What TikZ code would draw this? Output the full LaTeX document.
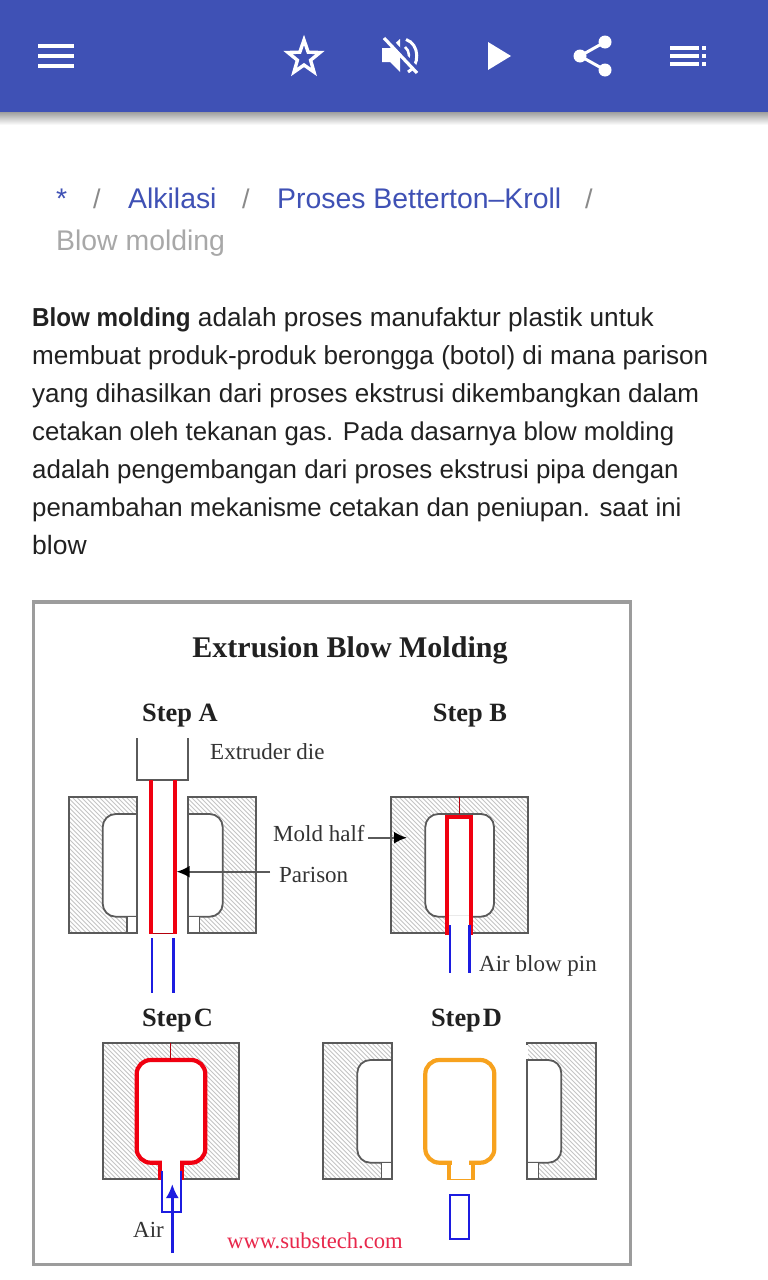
\documentclass[tikz,border=0pt]{standalone}
\usepackage{fontspec}
\setmainfont{Liberation Sans}
\newfontfamily\serifdiag{Liberation Serif}
\newfontfamily\boldcond[FakeStretch=0.93]{Liberation Sans Bold}
\usetikzlibrary{arrows.meta}
\definecolor{barblue}{HTML}{3F51B5}
\definecolor{inkdark}{HTML}{212121}
\definecolor{crumbgray}{HTML}{A8A8A8}
\definecolor{slashgray}{HTML}{8A8A8A}
\definecolor{framegray}{HTML}{9C9C9C}
\definecolor{moldline}{HTML}{5A5A5A}
\definecolor{hatchgray}{HTML}{C4C4C4}
\definecolor{diagtext}{HTML}{333333}
\definecolor{plasticred}{HTML}{F00010}
\definecolor{pinblue}{HTML}{1C1CE0}
\definecolor{cooledorange}{HTML}{F7A21E}
\definecolor{siteRed}{HTML}{E8274B}
\newcommand{\bsize}[1]{\fontsize{#1}{30}\selectfont}
\tikzset{
  x=1pt,y=-1pt,
  icon/.style={fill=white,draw=none},
  bodyline/.style={anchor=base west,inner sep=0pt,text=inkdark},
  crumb/.style={anchor=base west,inner sep=0pt,text=barblue,font=\fontsize{28.4}{30}\selectfont},
  crumbsep/.style={anchor=base west,inner sep=0pt,text=slashgray,font=\fontsize{27}{30}\selectfont},
  title/.style={anchor=base,inner sep=0pt,text=inkdark,font=\serifdiag\bfseries\fontsize{30}{32}\selectfont},
  steplabel/.style={anchor=base,inner sep=0pt,text=inkdark,font=\serifdiag\bfseries\fontsize{26.4}{28}\selectfont},
  partlabel/.style={anchor=base west,inner sep=0pt,text=diagtext,font=\serifdiag\fontsize{23}{26}\selectfont},
  moldedge/.style={draw=moldline,line width=1.8pt},
  neckedge/.style={draw=moldline,line width=1.6pt},
  cavity/.style={fill=white,draw=moldline,line width=1.8pt,rounded corners=13pt},
  parison/.style={draw=plasticred,line width=4.2pt},
  thinred/.style={draw=plasticred!75!black,line width=1.5pt},
  pin/.style={draw=pinblue,line width=2.6pt},
  pinthin/.style={draw=pinblue,line width=2pt},
  callout/.style={draw=moldline,line width=2pt,-{Latex[length=13pt,width=12pt,black]}},
  moldedplastic/.style={line width=4.2pt,line join=miter},
}
\newcommand{\hatchbox}[4]{%
  \begin{scope}
    \clip (#1,#2) rectangle (#3,#4);
    \foreach \i in {0,...,64} {
      \pgfmathsetmacro{\c}{#1-(#4-#2)+\i*4.5}
      \draw[hatchgray,line width=.9pt] (\c,#2) -- (\c+#4-#2,#4);
    }
  \end{scope}
  \draw[moldedge] (#1,#2) rectangle (#3,#4);
}
\begin{document}
\begin{tikzpicture}
\useasboundingbox (0,0) rectangle (768,1280);
\fill[white] (0,0) rectangle (768,1280);
% app bar
\shade[top color=black!38,bottom color=white] (0,112) rectangle (768,125);
\fill[barblue] (0,0) rectangle (768,112);
\foreach \y in {44,54,64} \fill[icon] (38,\y) rectangle (74,\y+4);
% star
\draw[white,line width=3.4pt,line join=miter,miter limit=10]
  (304,40) -- (308.2,52.2) -- (320,52.5) -- (310.6,60.2) -- (314,72) -- (304,65) -- (294,72) -- (297.4,60.2) -- (288,52.5) -- (299.8,52.2) -- cycle;
% muted speaker
\fill[icon] (382,48) -- (390,48) -- (400,39) -- (400,72) -- (390,62) -- (382,62) -- cycle;
\draw[white,line width=3pt] (406,39.5) .. controls (420,44) and (420,66) .. (408,72);
\draw[white,line width=2.6pt] (405,47) .. controls (410,51) and (410,58) .. (406,63);
\draw[barblue,line width=3.6pt] (387,36) -- (420,72);
\draw[white,line width=3.2pt] (384,38) -- (417,73);
% play
\fill[icon] (488,42) -- (511,56) -- (488,70) -- cycle;
% share
\coordinate (shareA) at (605,42);
\coordinate (shareB) at (580,56);
\coordinate (shareC) at (605,70);
\draw[white,line width=3pt] (shareA) -- (shareB) -- (shareC);
\foreach \p in {shareA,shareB,shareC} \fill[icon] (\p) circle (6.5);
% playlist
\foreach \y in {46,54,62} {
  \fill[icon] (670,\y) rectangle (699,\y+4);
  \fill[icon] (702,\y) rectangle (706,\y+4);
}
% breadcrumbs
\node[crumb] (c0) at (56,208) {*};
\node[crumbsep] (s1) at (93,208) {/};
\node[crumb] (c1) at (128,208) {Alkilasi};
\node[crumbsep] (s2) at (242,208) {/};
\node[crumb] (c2) at (277,208) {Proses Betterton–Kroll};
\node[crumbsep] (s3) at (585,208) {/};
\node[crumb,text=crumbgray] (c3) at (56,250) {Blow molding};
% body
\node[bodyline] (l1) at (32,326) {{\boldcond\bsize{26}Blow molding}\bsize{26.2} adalah proses manufaktur plastik untuk};
\node[bodyline] (l2) at (32,364) {\bsize{26.1}membuat produk-produk berongga (botol) di mana parison};
\node[bodyline] (l3) at (32,402) {\bsize{26.03}yang dihasilkan dari proses ekstrusi dikembangkan dalam};
\node[bodyline] (l4) at (32,440) {\bsize{25.8}cetakan oleh tekanan gas. Pada dasarnya blow molding};
\node[bodyline] (l5) at (32,478) {\bsize{25.9}adalah pengembangan dari proses ekstrusi pipa dengan};
\node[bodyline] (l6) at (32,516) {\bsize{25.8}penambahan mekanisme cetakan dan peniupan. saat ini};
\node[bodyline] (l7) at (32,554) {\bsize{26.5}blow};
% frame
\draw[framegray,line width=3.5pt] (33.5,602) rectangle (630.5,1264.5);
\node[title] (ttl) at (350,657) {Extrusion Blow Molding};
\node[steplabel] (sa) at (180,721) {Step A};
\node[steplabel] (sb) at (470,721) {Step B};
\node[steplabel] (sc) at (177.5,1026) {Step\hspace{2pt}C};
\node[steplabel] (sd) at (466.5,1026) {Step\hspace{2pt}D};
% Step A
\draw[moldedge] (136.7,738) -- (136.7,780) -- (188,780) -- (188,738);
\hatchbox{68.7}{796.7}{137.3}{933.3}
\hatchbox{187.7}{796.7}{255.7}{933.3}
\draw[cavity] (137.3,814) -- (102.7,814) -- (102.7,916.7) -- (137.3,916.7);
\fill[white] (126.7,917.3) rectangle (136.3,932.3);
\draw[neckedge] (126.7,916.7) -- (126.7,933.3);
\draw[moldedge] (137.3,796.7) -- (137.3,933.3);
\draw[cavity] (187.7,814) -- (222.7,814) -- (222.7,916.7) -- (187.7,916.7);
\fill[white] (188.7,917.3) rectangle (199.3,932.3);
\draw[neckedge] (199.3,916.7) -- (199.3,933.3);
\draw[moldedge] (187.7,796.7) -- (187.7,933.3);
\draw[thinred] (150.7,933.5) -- (175,933.5);
\draw[parison] (150.7,780) -- (150.7,934);
\draw[parison] (175,780) -- (175,934);
\draw[pin] (152,938) -- (152,993);
\draw[pin] (173.3,938) -- (173.3,993);
\node[partlabel] (extr) at (210,759) {Extruder die};
\node[partlabel] (moldh) at (273,841) {Mold half};
\node[partlabel] (pari) at (279,882) {Parison};
\coordinate (pariTip) at (176.7,871.7);
\coordinate (pariTail) at (270,871.7);
\draw[callout] (pariTail) -- (pariTip);
% Step B
\hatchbox{391.3}{796.7}{527.7}{933.3}
\draw[cavity] (459.7,814) -- (494,814) -- (494,916.7) -- (425.3,916.7) -- (425.3,814) -- cycle;
\fill[white] (447.3,916) rectangle (471.3,934.5);
\draw[thinred] (459.3,796.7) -- (459.3,814);
\draw[parison,line join=miter] (447.3,935) -- (447.3,817) -- (471.3,817) -- (471.3,935);
\draw[pin] (450,925) -- (450,973);
\draw[pin] (469.3,925) -- (469.3,973);
\coordinate (moldTail) at (368,837.7);
\coordinate (moldTip) at (407,837.7);
\draw[callout] (moldTail) -- (moldTip);
\node[partlabel] (abp) at (479,971) {Air blow pin};
% Step C
\hatchbox{103}{1042.7}{239.3}{1179}
\fill[white,draw=plasticred,line width=4.2pt,rounded corners=14pt]
  (166,1162.7) -- (136.7,1162.7) -- (136.7,1060) -- (205.3,1060) -- (205.3,1162.7) -- (176,1162.7);
\fill[white] (162,1160) rectangle (180.3,1180);
\draw[draw=plasticred,moldedplastic] (158,1162.7) -- (160,1162.7) -- (160,1180);
\draw[draw=plasticred,moldedplastic] (184.3,1162.7) -- (182.3,1162.7) -- (182.3,1180);
\draw[thinred] (170.7,1042.7) -- (170.7,1060);
\draw[pinthin] (162.3,1170.7) -- (162.3,1211.7) -- (180.7,1211.7) -- (180.7,1170.7);
\coordinate (airTail) at (172.3,1253);
\coordinate (airTip) at (172.3,1184);
\draw[draw=pinblue,line width=3pt,-{Latex[length=14pt,width=13pt]}] (airTail) -- (airTip);
\node[partlabel] (air) at (133,1237) {Air};
\node[anchor=base west,inner sep=0pt,text=siteRed,font=\serifdiag\fontsize{22.6}{25}\selectfont] (web) at (227,1248) {www.substech.com};
% Step D
\hatchbox{323.3}{1042.7}{391.7}{1179}
\hatchbox{527}{1042.7}{595.7}{1179}
\draw[cavity] (391.7,1060) -- (357.3,1060) -- (357.3,1162.7) -- (391.7,1162.7);
\fill[white] (381.3,1163.3) rectangle (390.7,1178);
\draw[neckedge] (381.3,1162.7) -- (381.3,1179);
\draw[moldedge] (391.7,1042.7) -- (391.7,1179);
\draw[cavity] (527,1060) -- (561.3,1060) -- (561.3,1162.7) -- (527,1162.7);
\fill[white] (528,1163.3) rectangle (538.3,1178);
\draw[neckedge] (538.3,1162.7) -- (538.3,1179);
\draw[moldedge] (527,1060) -- (527,1179);
\draw[white,line width=2.2pt] (527,1044.5) -- (527,1059);
\draw[draw=cooledorange,line width=4.2pt,rounded corners=14pt]
  (454,1162.7) -- (425.3,1162.7) -- (425.3,1060) -- (494.3,1060) -- (494.3,1162.7) -- (467,1162.7);
\draw[white,line width=6pt] (452,1162.7) -- (469,1162.7);
\draw[draw=cooledorange,moldedplastic] (446.7,1162.7) -- (448.7,1162.7) -- (448.7,1179);
\draw[draw=cooledorange,moldedplastic] (474.7,1162.7) -- (472.7,1162.7) -- (472.7,1179);
\draw[draw=cooledorange,line width=1.4pt] (446.6,1179.3) -- (474.8,1179.3);
\draw[pinthin] (450,1194.7) rectangle (469,1239.3);
\end{tikzpicture}
\end{document}
